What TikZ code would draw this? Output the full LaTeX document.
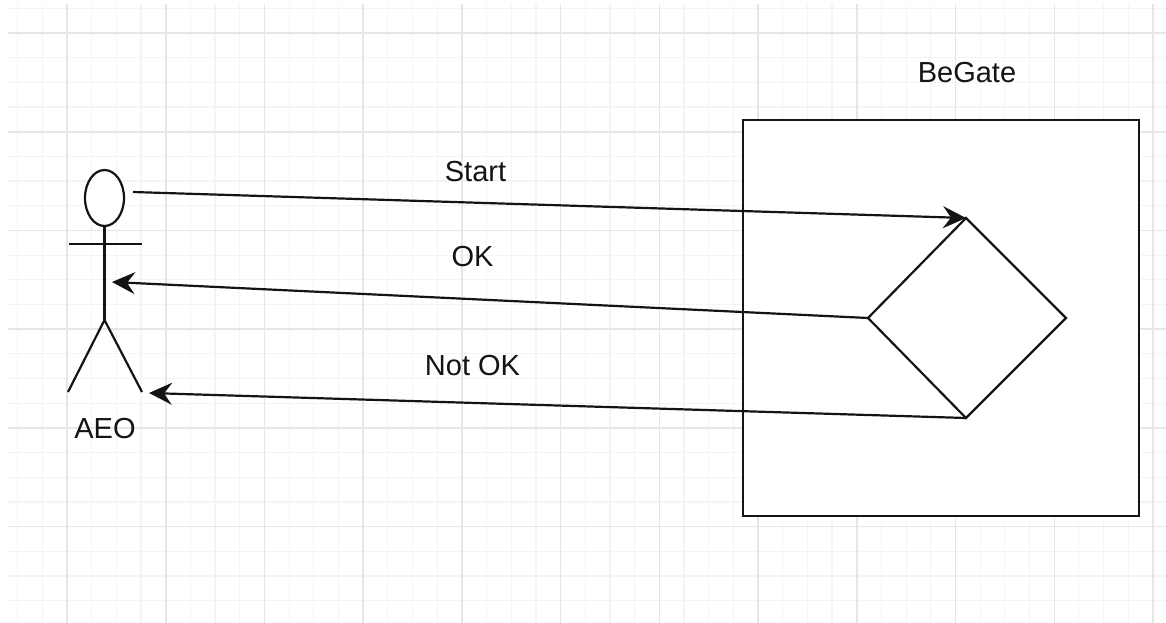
\documentclass[tikz,border=0pt]{standalone}
\usepackage{fontspec}
\setmainfont{Liberation Sans}
\usetikzlibrary{arrows.meta,shapes.geometric}
\definecolor{gridminor}{HTML}{F4F4F4}
\definecolor{gridmajor}{HTML}{E6E6E6}
\definecolor{ink}{HTML}{141414}
\tikzset{
  lbl/.style={font=\fontsize{29}{34}\selectfont, text=ink, inner sep=0pt},
  conn/.style={line width=2.2pt, draw=ink, -{Stealth[length=23pt,width=22pt,inset=8pt]}},
  figline/.style={line width=2.2pt, draw=ink},
  gatebox/.style={draw=ink, fill=white, line width=2.6pt, minimum width=396pt, minimum height=396pt, inner sep=0pt, outer sep=0pt},
}
\begin{document}
\begin{tikzpicture}[x=1pt,y=-1pt]
\useasboundingbox (0,0) rectangle (1166,623);
\fill[white] (0,0) rectangle (1166,623);
% grid
\begin{scope}
\clip (8,5) rectangle (1166,623);
\foreach \i in {-3,...,47} {
  \draw[gridminor, line width=1.2pt] ({67+24.68*\i},0) -- ({67+24.68*\i},623);
}
\foreach \i in {-2,...,25} {
  \draw[gridminor, line width=1.2pt] (0,{33+24.68*\i}) -- (1166,{33+24.68*\i});
}
\foreach \i in {0,...,11} {
  \draw[gridmajor, line width=1.6pt] ({67+98.73*\i},0) -- ({67+98.73*\i},623);
}
\foreach \i in {0,...,5} {
  \draw[gridmajor, line width=1.6pt] (0,{33+98.73*\i}) -- (1166,{33+98.73*\i});
}
\end{scope}
% actor
\node[ellipse, draw=ink, fill=white, line width=2.2pt, minimum width=39pt, minimum height=56pt, inner sep=0pt] (head) at (104.5,198) {};
\coordinate (hip) at (104.5,320);
\coordinate (armL) at (69,244);
\coordinate (armR) at (142,244);
\coordinate (legL) at (68,392);
\coordinate (legR) at (142,392);
\draw[figline] (head.south) -- (hip);
\draw[figline] (armL) -- (armR);
\draw[figline] (legL) -- (hip) -- (legR);
\node[lbl] (aeo) at (105,429) {AEO};
% gate
\node[gatebox] (gate) at (941,318) {};
\node[lbl] (gatelbl) at (967,73) {BeGate};
\coordinate (dtop) at (966,218);
\coordinate (dright) at (1066,318);
\coordinate (dbot) at (966,418);
\coordinate (dleft) at (868,318);
\draw[figline, line join=miter] (dtop) -- (dright) -- (dbot) -- (dleft) -- cycle;
% connectors
\coordinate (startsrc) at (133,192);
\coordinate (okdst) at (112,282);
\coordinate (nokdst) at (149,393);
\draw[conn] (startsrc) -- (dtop);
\draw[conn] (dleft) -- (okdst);
\draw[conn] (dbot) -- (nokdst);
\node[lbl] (startlbl) at (475.5,172) {Start};
\node[lbl] (oklbl) at (472.5,257) {OK};
\node[lbl] (noklbl) at (472.5,366) {Not OK};
\end{tikzpicture}
\end{document}
